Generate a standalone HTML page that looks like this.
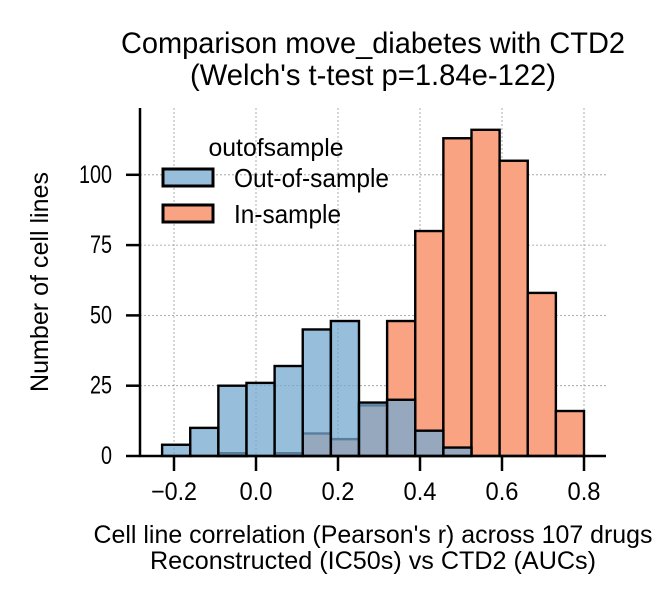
<!DOCTYPE html>
<html><head><meta charset="utf-8"><style>
body{margin:0;background:#fff;}
svg{display:block;font-family:"Liberation Sans",Arial,sans-serif;}
</style></head><body>
<svg id="chart" width="656" height="604" viewBox="0 0 656 604">
<g>
<text x="373" y="53" style="font-size:30px" text-anchor="middle" textLength="504" lengthAdjust="spacingAndGlyphs">Comparison move_diabetes with CTD2</text>
<text x="373" y="85" style="font-size:30px" text-anchor="middle" textLength="366" lengthAdjust="spacingAndGlyphs">(Welch's t-test p=1.84e-122)</text>
</g>
<g id="grid"></g>
<g id="bars"></g>
<g id="axes"></g>
<text x="0" y="0" style="font-size:25px" text-anchor="middle" transform="translate(48,282) rotate(-90)" textLength="220" lengthAdjust="spacingAndGlyphs">Number of cell lines</text>
<text x="373" y="543" style="font-size:25px" text-anchor="middle" textLength="559" lengthAdjust="spacingAndGlyphs">Cell line correlation (Pearson's r) across 107 drugs</text>
<text x="373" y="569" style="font-size:25px" text-anchor="middle" textLength="446" lengthAdjust="spacingAndGlyphs">Reconstructed (IC50s) vs CTD2 (AUCs)</text>
<g>
<text x="276" y="156" style="font-size:25px" text-anchor="middle" textLength="135" lengthAdjust="spacingAndGlyphs">outofsample</text>
<g>
<rect x="163" y="169" width="50" height="17" fill="#97bfdc" stroke="#000" stroke-width="3"/>
<text x="234" y="187" style="font-size:26px" textLength="155" lengthAdjust="spacingAndGlyphs">Out-of-sample</text></g>
<g>
<rect x="163" y="205" width="50" height="17" fill="#f9a382" stroke="#000" stroke-width="3"/>
<text x="234" y="223" style="font-size:26px" textLength="107" lengthAdjust="spacingAndGlyphs">In-sample</text></g>
</g>
</svg>
<script>
const binStart = -0.229;
const binWidth = 0.0686;
const outOfSample = [4,10,25,26,32,45,48,19,20,9,3,0,0,0,0];
const inSample = [0,0,1,0,1,8,6,18,48,80,113,116,105,58,16];
const xTicks = [-0.2,0.0,0.2,0.4,0.6,0.8];
const xTickLabels = ["\u22120.2","0.0","0.2","0.4","0.6","0.8"];
const xTickWidths = [46,33,33,33,33,33];
const yTicks = [0,25,50,75,100];

const NS="http://www.w3.org/2000/svg";
const X = v => 174 + (v + 0.2) * 410;
const Y = v => 456 - v * 2.812;
function mk(tag, attrs, parent){const e=document.createElementNS(NS,tag);for(const k in attrs)e.setAttribute(k,attrs[k]);parent.appendChild(e);return e;}
const grid=document.getElementById('grid'), bars=document.getElementById('bars'), axes=document.getElementById('axes');
xTicks.forEach(t=>{const l=mk('line',{x1:X(t),x2:X(t),y1:108,y2:456,stroke:'#999','stroke-width':0.8,'stroke-dasharray':'2,2'},grid);

});
yTicks.forEach(t=>{const l=mk('line',{x1:140,x2:606,y1:Y(t),y2:Y(t),stroke:'#999','stroke-width':0.8,'stroke-dasharray':'2,2'},grid);

});
function drawSeries(vals, fill, name){
  vals.forEach((v,i)=>{ if(v<=0) return;
    const x0=X(binStart+i*binWidth), x1=X(binStart+(i+1)*binWidth);
    const r=mk('rect',{x:x0,y:Y(v),width:x1-x0,height:Y(0)-Y(v),fill:fill,stroke:'#000','stroke-width':2.4},bars);
    
    
  });
}
drawSeries(inSample,'#f9a382','in-sample');
drawSeries(outOfSample,'rgba(116,169,208,0.75)','out-of-sample');
mk('line',{x1:140,x2:140,y1:108,y2:457,stroke:'#000','stroke-width':2.5},axes);
mk('line',{x1:139,x2:606,y1:456,y2:456,stroke:'#000','stroke-width':2.5},axes);
xTicks.forEach((t,i)=>{mk('line',{x1:X(t),x2:X(t),y1:456,y2:471,stroke:'#000','stroke-width':2.5},axes);
const tx=mk('text',{x:X(t),y:500,style:'font-size:25px','text-anchor':'middle',textLength:xTickWidths[i],lengthAdjust:'spacingAndGlyphs'},axes);tx.textContent=xTickLabels[i];

});
yTicks.forEach(t=>{mk('line',{x1:126,x2:140,y1:Y(t),y2:Y(t),stroke:'#000','stroke-width':2.5},axes);
const tx=mk('text',{x:112,y:Y(t)+8,style:'font-size:25px','text-anchor':'end',textLength:String(t).length*11,lengthAdjust:'spacingAndGlyphs'},axes);tx.textContent=t;

});
</script>
</body></html>
